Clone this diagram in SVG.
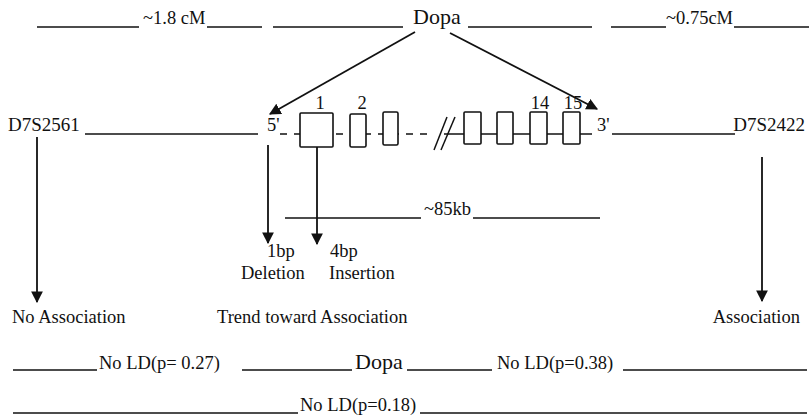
<svg xmlns="http://www.w3.org/2000/svg" width="809" height="418" viewBox="0 0 809 418">
<style>
text{font-family:"Liberation Serif","Times New Roman",serif;font-size:18.5px;fill:#111}
.big{font-size:22px}
.mk{font-size:19px}
.ln{stroke:#111;stroke-width:1.5;fill:none}
.ar{stroke:#111;stroke-width:1.8;fill:none;marker-end:url(#ah)}
.ex{stroke:#111;stroke-width:1.6;fill:#fff}
.mid{text-anchor:middle}
</style>
<defs>
<marker id="ah" viewBox="0 0 10 10" refX="9" refY="5" markerWidth="6.5" markerHeight="6.5" markerUnits="strokeWidth" orient="auto">
<path d="M0,0 L10,5 L0,10 z" fill="#111"/>
</marker>
</defs>
<rect width="809" height="418" fill="#fff"/>
<g id="top-row">
<line class="ln" x1="37" y1="27" x2="139" y2="27"/>
<text x="143" y="24">~1.8 cM</text>
<line class="ln" x1="207" y1="27" x2="262" y2="27"/>
<line class="ln" x1="273" y1="27" x2="403" y2="27"/>
<text id="dopa-top" class="big" x="413" y="24">Dopa</text>
<line class="ln" x1="468" y1="27" x2="592" y2="27"/>
<line class="ln" x1="611" y1="27" x2="666" y2="27"/>
<text x="666" y="24">~0.75cM</text>
<line class="ln" x1="734" y1="27" x2="809" y2="27"/>
</g>
<g id="gene">
<text class="mk" x="8" y="131">D7S2561</text>
<line class="ln" x1="85" y1="134" x2="258" y2="134"/>
<text x="267" y="131">5'</text>
<line class="ln" x1="280" y1="134" x2="434" y2="134" stroke-dasharray="7,7"/>
<line class="ln" x1="444" y1="134" x2="592" y2="134"/>
<line class="ln" x1="434" y1="150" x2="447" y2="117"/>
<line class="ln" x1="441" y1="150" x2="455" y2="117"/>
<rect class="ex" x="300" y="113" width="33" height="34" rx="1"/>
<rect class="ex" x="350" y="114" width="16" height="33" rx="1.5"/>
<rect class="ex" x="383" y="112" width="15" height="33" rx="1.5"/>
<rect class="ex" x="464" y="112" width="17" height="32" rx="1"/>
<rect class="ex" x="497" y="112" width="16" height="32" rx="1"/>
<rect class="ex" x="530" y="112" width="17" height="32" rx="1"/>
<rect class="ex" x="563" y="112" width="17" height="32" rx="1"/>
<text class="mid" x="320" y="109">1</text>
<text class="mid" x="362" y="109">2</text>
<text class="mid" x="540" y="109">14</text>
<text class="mid" x="573" y="109">15</text>
<text x="597" y="131">3'</text>
<line class="ln" x1="612" y1="134" x2="735" y2="134"/>
<text class="mk" x="805" y="131" text-anchor="end">D7S2422</text>
</g>
<g id="size">
<line class="ln" x1="285" y1="218" x2="421" y2="218"/>
<text x="424" y="215">~85kb</text>
<line class="ln" x1="473" y1="218" x2="600" y2="218"/>
</g>
<g id="labels">
<text x="267" y="257">1bp</text>
<text x="241" y="279">Deletion</text>
<text x="330" y="257">4bp</text>
<text x="329" y="279">Insertion</text>
<text x="12" y="323">No Association</text>
<text x="217" y="323">Trend toward Association</text>
<text x="800" y="323" text-anchor="end">Association</text>
</g>
<g id="connectors">
<line class="ar" x1="415" y1="32" x2="270" y2="114"/>
<line class="ar" x1="450" y1="33" x2="597" y2="109"/>
<line class="ar" x1="37" y1="137" x2="37" y2="302"/>
<line class="ar" x1="268" y1="145" x2="268" y2="243"/>
<line class="ar" x1="317" y1="147" x2="317" y2="244"/>
<line class="ar" x1="762" y1="157" x2="762" y2="301"/>
</g>
<g id="ld-row">
<line class="ln" x1="13" y1="370" x2="97" y2="370"/>
<text x="99" y="369">No LD(p= 0.27)</text>
<line class="ln" x1="242" y1="370" x2="352" y2="370"/>
<text id="dopa-bottom" class="big" x="355" y="369">Dopa</text>
<line class="ln" x1="407" y1="370" x2="492" y2="370"/>
<text x="497" y="369">No LD(p=0.38)</text>
<line class="ln" x1="623" y1="370" x2="807" y2="370"/>
</g>
<g id="ld-row2">
<line class="ln" x1="13" y1="413" x2="298" y2="413"/>
<text x="300" y="411">No LD(p=0.18)</text>
<line class="ln" x1="420" y1="413" x2="807" y2="413"/>
</g>
</svg>
